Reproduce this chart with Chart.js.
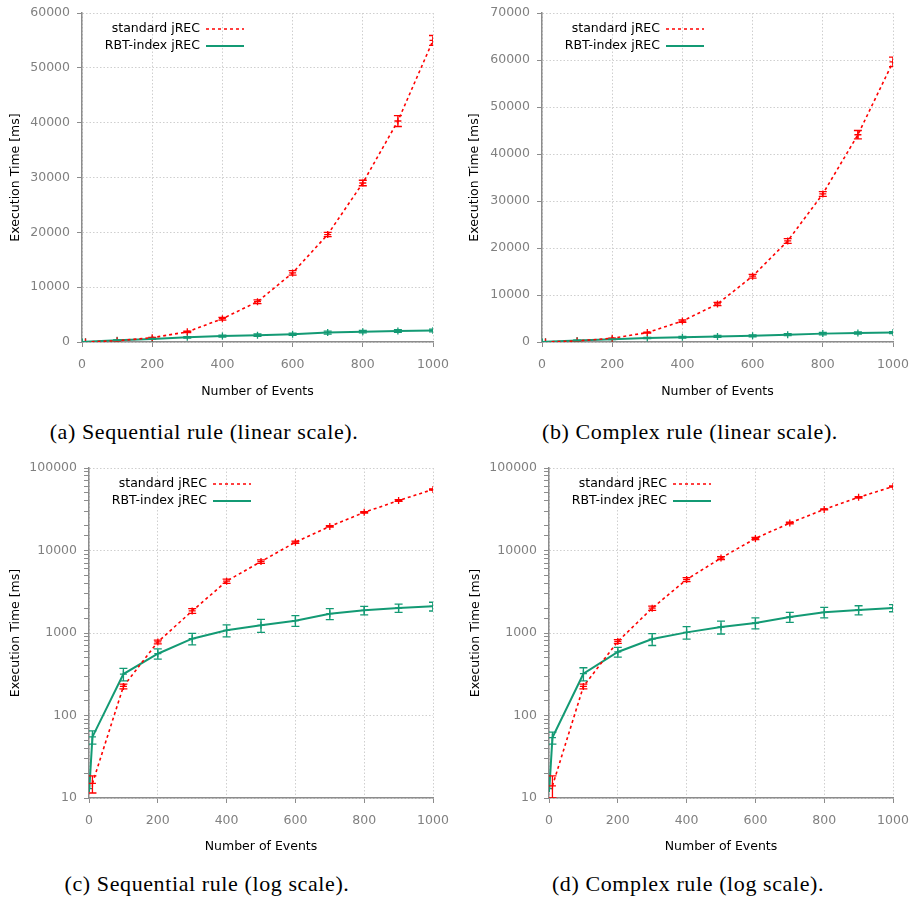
<!DOCTYPE html>
<html>
<head>
<meta charset="utf-8">
<script src="https://cdn.jsdelivr.net/npm/chart.js@4/dist/chart.umd.min.js"></script>
<style>
  body { margin: 0; background: #fff; }
  #page { position: relative; width: 911px; height: 903px; background: #fff; }
  canvas { position: absolute; }
  .caption { position: absolute; width: 400px; text-align: center; font-family: 'Liberation Serif', serif; font-size: 22px; letter-spacing: 0.6px; color: #000; }
</style>
</head>
<body>
<div id="page">
  <canvas id="chartA" width="455" height="405" style="left:0;top:0"></canvas>
  <canvas id="chartB" width="456" height="405" style="left:455px;top:0"></canvas>
  <canvas id="chartC" width="455" height="405" style="left:0;top:455px"></canvas>
  <canvas id="chartD" width="456" height="405" style="left:455px;top:455px"></canvas>
  <div class="caption" style="left:4px;top:419px">(a) Sequential rule (linear scale).</div>
  <div class="caption" style="left:490px;top:419px">(b) Complex rule (linear scale).</div>
  <div class="caption" style="left:7px;top:871px">(c) Sequential rule (log scale).</div>
  <div class="caption" style="left:488px;top:871px">(d) Complex rule (log scale).</div>
</div>
<script>
// number of events
const events = [1, 10, 100, 200, 300, 400, 500, 600, 700, 800, 900, 1000];

// sequential rule
const seqStandard = [null, 15, 225, 780, 1850, 4250, 7350, 12600, 19600, 29000, 40300, 55000];
const seqStandardErr = [0, 3.5, 15, 40, 120, 250, 350, 400, 400, 500, 1000, 900];
const seqRbt = [13, 55, 318, 561, 853, 1077, 1239, 1410, 1714, 1883, 2010, 2104];
const seqRbtErr = [0, 10, 55, 80, 135, 180, 220, 210, 260, 225, 230, 255];

// complex rule
const cmpStandard = [null, 14, 225, 790, 2000, 4450, 8100, 14000, 21500, 31500, 44100, 59600];
const cmpStandardErr = [0, 4.5, 15, 40, 120, 250, 350, 400, 500, 500, 900, 1000];
const cmpRbt = [13, 54, 321, 589, 845, 1018, 1183, 1322, 1563, 1782, 1900, 2010];
const cmpRbtErr = [0, 9, 58, 80, 140, 175, 210, 200, 215, 260, 240, 200];

const xTicks = [0, 200, 400, 600, 800, 1000];

const RED = '#ff0000';
const GREEN = '#139a74';
const AXIS = '#8c8c8c';
const GRID = '#cfcfcf';
const SANS = "'DejaVu Sans', sans-serif";

Chart.defaults.font.family = SANS;
Chart.defaults.font.size = 12.5;

// draws the vertical error bars with little caps
const errorBarPlugin = {
    id: 'errorBars',
    afterDatasetsDraw(chart) {
        const ctx = chart.ctx;
        const yScale = chart.scales.y;
        const area = chart.chartArea;
        ctx.save();
        ctx.beginPath();
        ctx.rect(area.left, area.top, area.right - area.left, area.bottom - area.top);
        ctx.clip();
        chart.data.datasets.forEach((ds, i) => {
            if (!ds.errors) return;
            const meta = chart.getDatasetMeta(i);
            ctx.strokeStyle = ds.borderColor;
            ctx.lineWidth = 1.3;
            ctx.setLineDash([]);
            meta.data.forEach((pt, j) => {
                const v = ds.data[j].y;
                const e = ds.errors[j];
                if (v == null || !e) return;
                const x = pt.x;
                const top = yScale.getPixelForValue(v + e);
                const bot = yScale.getPixelForValue(Math.max(v - e, yScale.min));
                ctx.beginPath();
                ctx.moveTo(x, top); ctx.lineTo(x, bot);
                ctx.moveTo(x - 4, top); ctx.lineTo(x + 4, top);
                ctx.moveTo(x - 4, bot); ctx.lineTo(x + 4, bot);
                ctx.stroke();
            });
        });
        ctx.restore();
    }
};

// gnuplot style key: right aligned text with the line sample after it
const keyPlugin = {
    id: 'gnuKey',
    afterDraw(chart) {
        const ctx = chart.ctx;
        const area = chart.chartArea;
        ctx.save();
        ctx.font = '12.5px ' + SANS;
        ctx.textAlign = 'right';
        ctx.textBaseline = 'middle';
        chart.data.datasets.forEach((ds, i) => {
            const y = area.top + 16 + i * 17;
            const x = area.left + 118;
            ctx.fillStyle = '#000';
            ctx.fillText(ds.label, x, y);
            ctx.strokeStyle = ds.borderColor;
            ctx.lineWidth = ds.borderWidth;
            ctx.setLineDash(ds.borderDash || []);
            ctx.beginPath();
            ctx.moveTo(x + 6, y);
            ctx.lineTo(x + 44, y);
            ctx.stroke();
        });
        ctx.restore();
    }
};

function pairs(ys) {
    return events.map((x, i) => ({ x: x, y: ys[i] }));
}

function isPow10(v) {
    const l = Math.log10(v);
    return Math.abs(l - Math.round(l)) < 1e-9;
}

function makeChart(canvasId, cfg) {
    const logScale = cfg.log;
    const yAxis = {
        type: logScale ? 'logarithmic' : 'linear',
        min: logScale ? 10 : 0,
        max: cfg.yMax,
        afterFit: s => { s.width = cfg.yWidth; s.paddingTop = 0; s.paddingBottom = 0; },
        border: { color: AXIS, width: 1.5, dash: [1.5, 2] },
        grid: {
            color: ctx => (!logScale || isPow10(ctx.tick.value)) ? GRID : 'rgba(0,0,0,0)',
            tickColor: AXIS,
            tickLength: 5
        },
        ticks: {
            color: '#808080',
            padding: 7,
            autoSkip: false,
            callback: v => logScale ? (isPow10(v) ? String(v) : '') : String(v)
        },
        title: {
            display: true,
            text: 'Execution Time [ms]',
            color: '#000',
            font: { size: 12.5 },
            padding: { top: cfg.titlePad, bottom: 0 }
        }
    };
    if (!logScale) yAxis.ticks.stepSize = 10000;

    return new Chart(document.getElementById(canvasId), {
        type: 'line',
        data: {
            datasets: [{
                label: 'standard jREC',
                data: pairs(cfg.standard),
                errors: cfg.standardErr,
                borderColor: RED,
                backgroundColor: RED,
                borderWidth: 1.6,
                borderDash: [3, 3],
                pointStyle: 'cross',
                pointRadius: 3.5,
                pointBorderWidth: 1.3,
                tension: 0
            }, {
                label: 'RBT-index jREC',
                data: pairs(cfg.rbt),
                errors: cfg.rbtErr,
                borderColor: GREEN,
                backgroundColor: GREEN,
                borderWidth: 2,
                pointStyle: 'cross',
                pointRadius: 3.5,
                pointBorderWidth: 1.3,
                tension: 0
            }]
        },
        options: {
            responsive: false,
            animation: false,
            layout: { padding: { top: cfg.top, right: cfg.right, bottom: 0, left: 0 } },
            plugins: { legend: { display: false }, tooltip: { enabled: false } },
            scales: {
                x: {
                    type: 'linear',
                    min: 0,
                    max: 1000,
                    afterFit: s => { s.height = cfg.xHeight; s.paddingLeft = 0; s.paddingRight = 0; },
                    afterBuildTicks: s => { s.ticks = xTicks.map(v => ({ value: v })); },
                    border: { color: AXIS, width: 1.5, dash: [1.5, 2] },
                    grid: { color: GRID, tickColor: AXIS, tickLength: 5 },
                    ticks: { color: '#808080', padding: 10, maxRotation: 0, callback: v => String(v) },
                    title: {
                        display: true,
                        text: 'Number of Events',
                        color: '#000',
                        font: { size: 12.5 },
                        padding: { top: 0, bottom: 6 }
                    }
                },
                y: yAxis
            }
        },
        plugins: [errorBarPlugin, keyPlugin]
    });
}

makeChart('chartA', { log: false, yMax: 60000, standard: seqStandard, standardErr: seqStandardErr,
    rbt: seqRbt, rbtErr: seqRbtErr, yWidth: 82, top: 13, right: 22, xHeight: 63, titlePad: 8 });
makeChart('chartB', { log: false, yMax: 70000, standard: cmpStandard, standardErr: cmpStandardErr,
    rbt: cmpRbt, rbtErr: cmpRbtErr, yWidth: 87, top: 13, right: 18, xHeight: 63, titlePad: 12 });
makeChart('chartC', { log: true, yMax: 100000, standard: seqStandard, standardErr: seqStandardErr,
    rbt: seqRbt, rbtErr: seqRbtErr, yWidth: 89, top: 13, right: 22, xHeight: 62, titlePad: 8 });
makeChart('chartD', { log: true, yMax: 100000, standard: cmpStandard, standardErr: cmpStandardErr,
    rbt: cmpRbt, rbtErr: cmpRbtErr, yWidth: 94, top: 13, right: 18, xHeight: 62, titlePad: 13 });
</script>
</body>
</html>
